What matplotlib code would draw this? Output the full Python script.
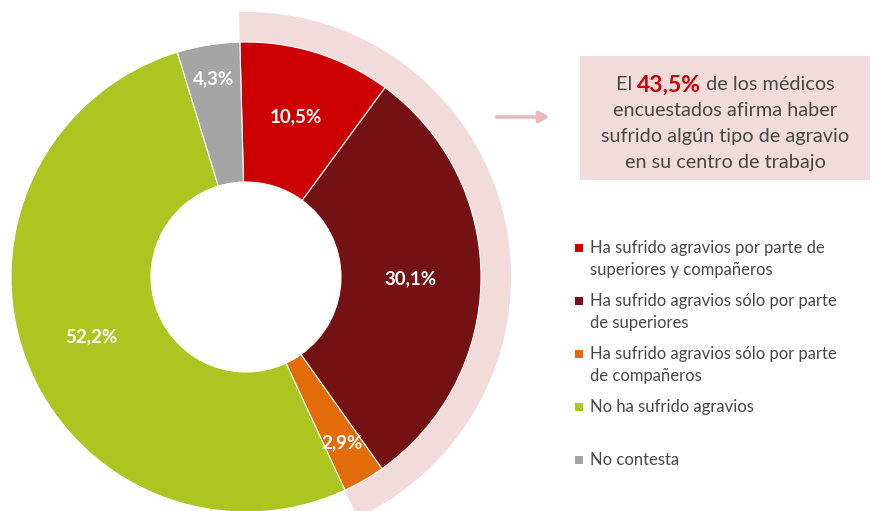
import numpy as np
import matplotlib
matplotlib.use("Agg")
import matplotlib.pyplot as plt
from matplotlib.patches import Wedge, Rectangle, FancyArrowPatch

plt.rcParams['font.family'] = ['Lato', 'DejaVu Sans']

# data
labels = [
    "Ha sufrido agravios por parte de\nsuperiores y compañeros",
    "Ha sufrido agravios sólo por parte\nde superiores",
    "Ha sufrido agravios sólo por parte\nde compañeros",
    "No ha sufrido agravios",
    "No contesta",
]
values = [10.5, 30.1, 2.9, 52.2, 4.3]
colors = ["#CC0000", "#741112", "#E36C0A", "#ACC520", "#A5A5A5"]
agraviados = sum(values[:3])

W, H = 874, 511
fig = plt.figure(figsize=(W / 100, H / 100), dpi=100)

# donut axes: 1 data unit = 1 pixel, centre at (246, 234) from bottom-left
cx, cy = 246, 234
half = 280
ax = fig.add_axes([(cx - half) / W, (cy - half) / H, 2 * half / W, 2 * half / H])

R, r_in = 235, 95
start = 91.5

# pink band behind the affected share
frac = agraviados / sum(values)
band = Wedge((0, 0), 265, start - 360 * frac, start, width=60, facecolor="#F2DCDB",
             edgecolor='none', zorder=0)
ax.add_patch(band)

wedges, _ = ax.pie(values, colors=colors, startangle=start, counterclock=False,
                   radius=R, wedgeprops=dict(width=R - r_in, edgecolor='white', linewidth=0.8))
for w in wedges:
    w.set_zorder(1)

ax.set_xlim(-half, half)
ax.set_ylim(-half, half)
ax.set_aspect('equal')
ax.axis('off')

# percentage labels
label_r = [168, 165, 192, 166, 201]
cum = np.cumsum([0] + values[:-1])
for v, c0, lr in zip(values, cum, label_r):
    ang = np.deg2rad(start - 360 * (c0 + v / 2) / 100)
    ax.text(lr * np.cos(ang), lr * np.sin(ang), f"{v:.1f}%".replace('.', ','),
            ha='center', va='center', color='white', fontsize=13.5, fontweight='bold', zorder=3)

# text box on the right (pixel coordinates, top-left origin)
def fx(x):
    return x / W

def fy(y):
    return 1 - y / H

fig.patches.append(Rectangle((fx(580), fy(180)), (870 - 580) / W, (180 - 56) / H,
                             transform=fig.transFigure, facecolor="#F2DCDB",
                             edgecolor='none', zorder=0))

arrow = FancyArrowPatch((fx(494), fy(117)), (fx(552), fy(117)), transform=fig.transFigure,
                        arrowstyle='-|>,head_length=6,head_width=3.5', mutation_scale=1,
                        color="#E6B9B8", linewidth=2.5)
fig.patches.append(arrow)

txt_col = "#474747"
renderer = fig.canvas.get_renderer()
pieces = [("El ", txt_col, 'normal', 14.3),
          (f"{agraviados:.1f}%".replace('.', ','), "#CC0000", 'bold', 16.5),
          (" de los médicos", txt_col, 'normal', 14.3)]
objs = [fig.text(0, fy(83), p, color=c, fontweight=fw, fontsize=fs, va='center_baseline', ha='left')
        for p, c, fw, fs in pieces]
widths = [o.get_window_extent(renderer).width for o in objs]
x0 = 725 - sum(widths) / 2
for o, wd in zip(objs, widths):
    o.set_x(fx(x0))
    x0 += wd

box_lines = ["encuestados afirma haber", "sufrido algún tipo de agravio", "en su centro de trabajo"]
for i, line in enumerate(box_lines):
    fig.text(fx(725), fy(109 + 26 * i), line, color=txt_col, fontsize=14.3,
             ha='center', va='center_baseline')

# legend
leg_y = [248, 301, 354, 407, 460]
for lab, col, y in zip(labels, colors, leg_y):
    fig.patches.append(Rectangle((fx(575), fy(y + 4)), 8 / W, 8 / H, transform=fig.transFigure,
                                 facecolor=col, edgecolor='none'))
    for j, part in enumerate(lab.split("\n")):
        fig.text(fx(590), fy(y + 22 * j), part, color=txt_col, fontsize=12,
                 ha='left', va='center')

fig.savefig("out.png", dpi=100)
